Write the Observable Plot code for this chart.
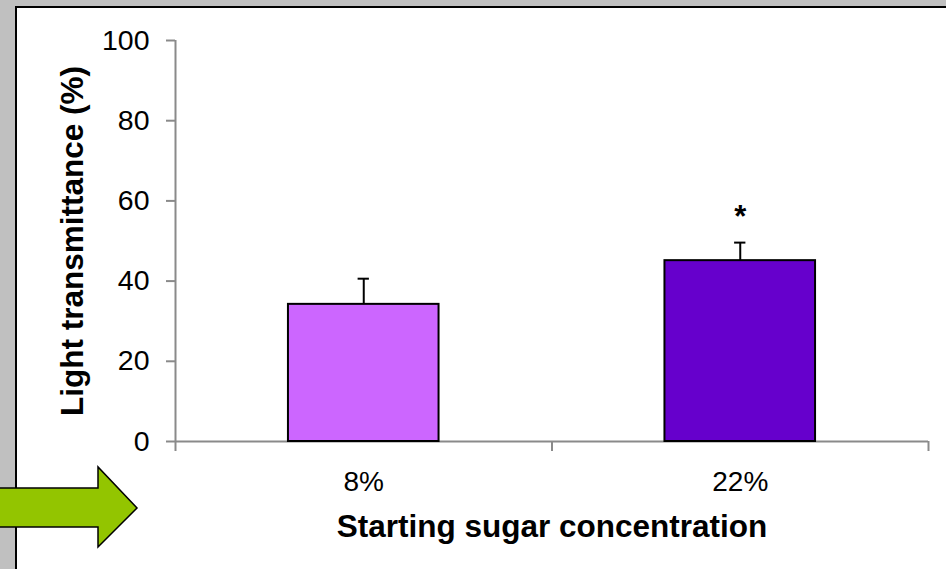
<!DOCTYPE html>
<html>
<head>
<meta charset="utf-8">
<script src="https://cdn.jsdelivr.net/npm/d3@7"></script>
<script src="https://cdn.jsdelivr.net/npm/@observablehq/plot@0.6"></script>
<style>
  html, body { margin: 0; padding: 0; width: 946px; height: 569px; overflow: hidden; background: #c0c0c0; }
  #panel { position: absolute; left: 15px; top: 6px; width: 960px; height: 600px; background: #fff;
           border-left: 2px solid #000; border-top: 2px solid #000; }
  #chart { position: absolute; left: 0; top: 0; }
  #arrow { position: absolute; left: 0; top: 0; }
</style>
</head>
<body>
<div id="panel"></div>
<div id="chart"></div>
<svg id="arrow" width="946" height="569">
  <path d="M-4,488 L98,488 L98,467 L137,508 L98,547 L98,527 L-4,527 Z"
        fill="#93c500" stroke="#000" stroke-width="1.5" stroke-linejoin="miter"/>
</svg>
<script>
// Mean light transmittance by starting sugar concentration, with upper error bars
const categories = ["8%", "22%"];
const means = [34.2, 45.1];
const errors = [6.4, 4.5];
const significance = ["", "*"];
const fills = ["#cc66ff", "#6600cc"];
const yTicks = [0, 20, 40, 60, 80, 100];

// Each category sits in the middle of its slot on a 0..n positional axis
const rows = categories.map((label, i) => ({
  pos: i + 0.5,
  label,
  mean: means[i],
  top: means[i] + errors[i],
  sig: significance[i],
  fill: fills[i]
}));
const slotEdges = d3.range(categories.length + 1);

const axisGray = "#8a8a8a";
const font = "Liberation Sans, Arial, sans-serif";

const chart = Plot.plot({
  width: 946,
  height: 569,
  marginLeft: 175,
  marginRight: 18,
  marginTop: 40,
  marginBottom: 128,
  style: { background: "transparent", fontFamily: font, overflow: "visible" },
  x: { domain: [0, categories.length], label: null },
  y: { domain: [0, 100], label: null },
  marks: [
    // axis lines
    Plot.ruleY([0], { stroke: axisGray, strokeWidth: 2 }),
    Plot.ruleX([0], { stroke: axisGray, strokeWidth: 2 }),
    // slot separators on the category axis
    Plot.axisX({ ticks: slotEdges, tickSize: 10, tickFormat: () => "", stroke: axisGray, strokeWidth: 2, label: null }),
    // category labels
    Plot.axisX({
      ticks: rows.map(d => d.pos),
      tickSize: 0,
      tickPadding: 30,
      tickFormat: v => categories[Math.floor(v)],
      fontSize: 28,
      fill: "#000",
      label: null
    }),
    Plot.axisY({
      ticks: yTicks,
      tickSize: 9,
      tickPadding: 17,
      fontSize: 28.5,
      stroke: axisGray,
      strokeWidth: 2,
      fill: "#000",
      label: null
    }),
    // bars
    Plot.rectY(rows, {
      x1: d => d.pos - 0.2,
      x2: d => d.pos + 0.2,
      y: "mean",
      fill: "fill",
      stroke: "#000",
      strokeWidth: 2
    }),
    // upper error bars with caps
    Plot.ruleX(rows, { x: "pos", y1: "mean", y2: "top", stroke: "#000", strokeWidth: 2 }),
    Plot.ruleY(rows, { y: "top", x1: d => d.pos - 0.015, x2: d => d.pos + 0.015, stroke: "#000", strokeWidth: 2 }),
    // significance marker
    Plot.text(rows, {
      x: "pos", y: "top", text: "sig",
      lineAnchor: "bottom", dy: -16,
      fontSize: 31, fontWeight: "bold", fill: "#000"
    }),
    // axis titles
    Plot.text(["Light transmittance (%)"], {
      frameAnchor: "left", rotate: -90, dx: -93,
      textAnchor: "middle", lineAnchor: "bottom",
      fontSize: 31.5, fontWeight: "bold", fill: "#000"
    }),
    Plot.text(["Starting sugar concentration"], {
      frameAnchor: "bottom", dy: 95,
      textAnchor: "middle", lineAnchor: "bottom",
      fontSize: 31.5, fontWeight: "bold", fill: "#000"
    })
  ]
});

document.getElementById("chart").append(chart);
</script>
</body>
</html>
